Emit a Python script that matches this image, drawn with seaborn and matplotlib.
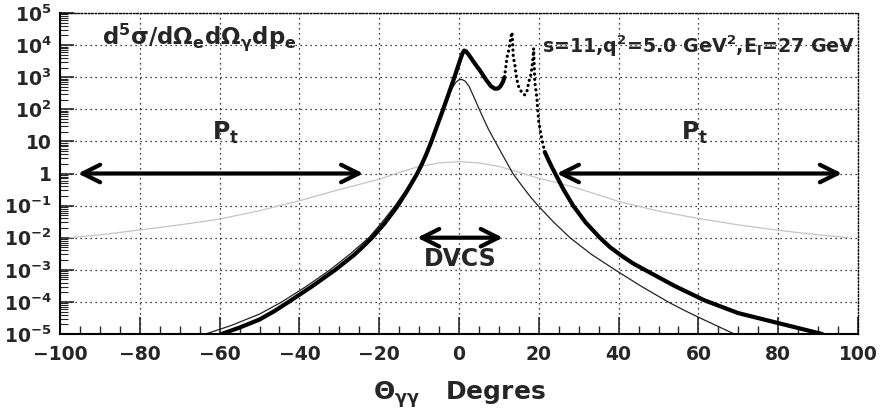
import matplotlib
matplotlib.use("Agg")
import matplotlib.pyplot as plt
import seaborn as sns
from matplotlib.ticker import FixedLocator, FixedFormatter, MultipleLocator, LogLocator, NullFormatter

# ---------------- data ----------------
# total cross-section, smooth part left of the resonances
total_a_theta = [-59.5, -55, -50, -46.3, -42.7, -37, -31, -26.4, -24, -21.8, -18.7, -15.6, -13.1,
                 -12, -10.6, -9.5, -8.3, -7.0, -5.5, -4.0, -2.6, -1.2, -0.3, 0.4, 0.9, 1.3, 1.8,
                 2.4, 3.0, 4.0, 5.3, 6.1, 6.9, 8.0, 9.0, 9.8, 10.4, 11.0, 11.4]
total_a_xs = [1.0e-5, 1.585e-5, 2.82e-5, 5.13e-5, 1.0e-4, 2.95e-4, 1.0e-3, 2.82e-3, 5.37e-3, 1.0e-2,
              2.75e-2, 0.0891, 0.275, 0.468, 0.933, 1.738, 3.715, 9.33, 30.2, 97.7, 302, 955, 2089,
              3802, 5623, 6761, 6310, 5129, 3981, 2630, 1585, 1122, 794, 525, 437, 447, 525, 708, 1000]
# total cross-section, resonance region (drawn dotted)
total_b_theta = [11.4, 11.8, 12.0, 12.5, 13.0, 13.3, 13.5, 13.6, 14.0, 14.3, 14.8, 15.8, 16.5, 17.0,
                 17.5, 18.0, 18.3, 18.6, 18.7, 19.0, 19.5, 19.7, 20.0, 20.7, 21.5]
total_b_xs = [1000, 2400, 4000, 7100, 17800, 25000, 7900, 4300, 2400, 1200, 560, 320, 280, 350,
              710, 1200, 2000, 4900, 7900, 710, 240, 110, 40, 12.6, 4.68]
# total cross-section, right tail
total_c_theta = [21.5, 22.3, 23.2, 24.1, 26.2, 28.6, 31.7, 35.3, 37.8, 40.6, 43.6, 47, 54, 61.5, 70,
                 80, 85.5, 91]
total_c_xs = [4.68, 2.82, 1.66, 1.0, 0.316, 0.1, 0.0302, 0.01, 5.13e-3, 2.82e-3, 1.585e-3, 9.33e-4,
              3.16e-4, 1.122e-4, 4.47e-5, 2.19e-5, 1.48e-5, 1.0e-5]

# second (thin) curve
thin_theta = [-63.5, -57, -50, -44.4, -38.3, -32.3, -27.4, -22.6, -19.3, -16, -13.3, -10.7, -9.5,
              -8.3, -7.0, -5.5, -4.0, -2.6, -1.6, -0.8, 0.0, 0.7, 1.5, 2.5, 3.6, 4.8, 6.1, 7.3, 8.6,
              11, 13.5, 16, 17.8, 19.8, 23.6, 27.8, 33.2, 39.1, 45.5, 52.4, 56.4, 60.4, 64.7, 69]
thin_xs = [1.0e-5, 1.86e-5, 4.17e-5, 1.0e-4, 3.02e-4, 1.0e-3, 3.02e-3, 1.0e-2, 3.02e-2, 0.1, 0.302,
           1.0, 1.8, 3.8, 9.5, 30.5, 98, 282, 479, 692, 832, 851, 759, 525, 263, 120, 52.5, 25.1,
           12.6, 3.63, 1.0, 0.38, 0.195, 0.1, 0.0316, 0.01, 3.02e-3, 1.0e-3, 3.16e-4, 1.0e-4,
           5.5e-5, 3.16e-5, 1.78e-5, 1.0e-5]

# light grey broad curve
grey_theta = [-97.5, -90, -80, -70, -60, -50, -45, -40, -30, -20, -15, -10, -5, 0, 5, 10, 15, 20,
              25, 30, 40, 50, 60, 70, 80, 90, 97.5]
grey_xs = [0.01, 0.0123, 0.0174, 0.0251, 0.038, 0.0692, 0.1, 0.141, 0.316, 0.661, 1.072, 1.66,
           2.138, 2.344, 2.138, 1.66, 1.096, 0.708, 0.501, 0.339, 0.135, 0.0676, 0.0398, 0.0251,
           0.017, 0.0123, 0.01]

y_tick_values = [1e-5, 1e-4, 1e-3, 1e-2, 1e-1, 1, 10, 1e2, 1e3, 1e4, 1e5]
y_tick_labels = [r"$10^{-5}$", r"$10^{-4}$", r"$10^{-3}$", r"$10^{-2}$", r"$10^{-1}$", "1", "10",
                 r"$10^{2}$", r"$10^{3}$", r"$10^{4}$", r"$10^{5}$"]
x_tick_values = [-100, -80, -60, -40, -20, 0, 20, 40, 60, 80, 100]
x_tick_labels = ["\u2212100", "\u221280", "\u221260", "\u221240", "\u221220", "0", "20", "40", "60", "80", "100"]

# ---------------- style ----------------
sns.set_theme(style="white")
plt.rcParams["font.family"] = ["DejaVu Sans"]
plt.rcParams["font.weight"] = "bold"
plt.rcParams["mathtext.default"] = "regular"

fig = plt.figure(figsize=(8.81, 4.12), dpi=100)
ax = fig.add_axes([60 / 881, 1 - 334 / 412, (858 - 60) / 881, (334 - 13) / 412])

ax.set_yscale("log")
ax.set_xlim(-100, 100)
ax.set_ylim(1e-5, 1e5)

# curves
sns.lineplot(x=grey_theta, y=grey_xs, ax=ax, color="#c4c4c4", lw=0.9, sort=False, estimator=None)
sns.lineplot(x=thin_theta, y=thin_xs, ax=ax, color="#222222", lw=0.9, sort=False, estimator=None)
sns.lineplot(x=total_a_theta, y=total_a_xs, ax=ax, color="black", lw=3.0, sort=False, estimator=None,
             solid_capstyle="round", solid_joinstyle="round")
sns.lineplot(x=total_c_theta, y=total_c_xs, ax=ax, color="black", lw=3.0, sort=False, estimator=None,
             solid_capstyle="round", solid_joinstyle="round")
ln = sns.lineplot(x=total_b_theta, y=total_b_xs, ax=ax, color="black", lw=2.3, sort=False, estimator=None)
ln.lines[-1].set_linestyle((0, (0.05, 1.6)))
ln.lines[-1].set_dash_capstyle("round")

# grid and axes
ax.xaxis.set_major_locator(FixedLocator(x_tick_values))
ax.xaxis.set_major_formatter(FixedFormatter(x_tick_labels))
ax.xaxis.set_minor_locator(MultipleLocator(5))
ax.yaxis.set_major_locator(FixedLocator(y_tick_values))
ax.yaxis.set_major_formatter(FixedFormatter(y_tick_labels))
ax.yaxis.set_minor_locator(LogLocator(base=10, subs=[2, 3, 4, 5, 6, 7, 8, 9], numticks=50))
ax.yaxis.set_minor_formatter(NullFormatter())

ax.grid(True, which="major", color="black", linestyle=(0, (1, 3)), linewidth=0.9)
ax.tick_params(axis="x", which="major", direction="in", length=12, width=1.2, bottom=True, top=False,
               labelsize=13.5, pad=8)
ax.tick_params(axis="x", which="minor", direction="in", length=6, width=1.0, bottom=True, top=False)
ax.tick_params(axis="y", which="major", direction="in", length=10, width=1.2, left=True, right=False,
               labelsize=13.5, pad=6)
ax.tick_params(axis="y", which="minor", direction="in", length=6, width=0.8, left=True, right=False)
for lab in ax.get_xticklabels() + ax.get_yticklabels():
    lab.set_fontweight("bold")

for side in ["left", "bottom"]:
    ax.spines[side].set_color("black")
    ax.spines[side].set_linewidth(1.5)
for side in ["top", "right"]:
    ax.spines[side].set_color("black")
    ax.spines[side].set_linewidth(1.0)
    ax.spines[side].set_linestyle((0, (1, 1.5)))

ax.set_xlabel(r"$\Theta_{\gamma\gamma}$   Degres", fontsize=18, fontweight="bold", labelpad=11)
ax.set_ylabel("")

# annotations
arrow = dict(arrowstyle="<->,head_length=0.9,head_width=0.45", lw=3, color="black",
             mutation_scale=14, shrinkA=0, shrinkB=0)
ax.annotate("", xy=(-95.5, 1), xytext=(-24, 1), arrowprops=arrow)
ax.annotate("", xy=(24.5, 1), xytext=(96, 1), arrowprops=arrow)
ax.annotate("", xy=(-10.5, 1e-2), xytext=(11, 1e-2), arrowprops=arrow)

ax.text(-58.5, 11, r"P$_t$", fontsize=17, fontweight="bold", ha="center", va="baseline")
ax.text(59, 11, r"P$_t$", fontsize=17, fontweight="bold", ha="center", va="baseline")
ax.text(0.3, 5e-3, "DVCS", fontsize=17, fontweight="bold", ha="center", va="top")
ax.text(-89.5, 1.1e4, r"d$^5\sigma$/d$\Omega_e$d$\Omega_\gamma$dp$_e$", fontsize=16.5,
        fontweight="bold", ha="left", va="baseline")
ax.text(20.8, 5.6e3, r"s=11,q$^2$=5.0 GeV$^2$,E$_l$=27 GeV", fontsize=13.7,
        fontweight="bold", ha="left", va="baseline")

fig.savefig("out.png", dpi=100)
